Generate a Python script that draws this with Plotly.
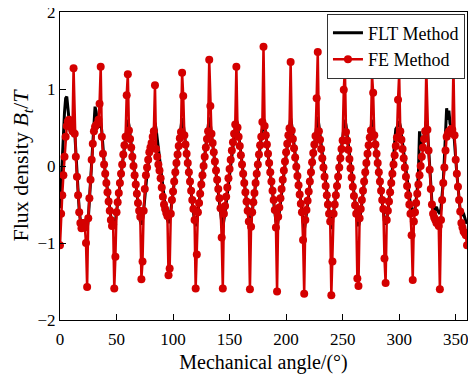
import plotly.graph_objects as go

# Mechanical angle samples (degrees)
angle = list(range(0, 361))

# FE Method flux density (T), one value per degree
fe_method = [
    # 0-23
    -1.03, -0.62, -0.38, -0.12, 0.12, 0.38, 0.52, 0.58, 0.60, 0.56, 0.50, 0.45,
    1.27, 0.42, 0.12, -0.14, -0.38, -0.60, -0.74, -0.81, -0.78, -0.74, -0.80, -1.00,
    # 24-47
    -1.57, -0.68, -0.42, -0.18, 0.08, 0.29, 0.45, 0.51, 0.53, 0.55, 0.60, 0.81,
    1.29, 0.38, 0.16, 0.02, -0.10, -0.22, -0.34, -0.46, -0.58, -0.70, -0.78, -0.76,
    # 48-71
    -1.59, -1.18, -0.60, -0.47, -0.35, -0.22, -0.10, 0.02, 0.15, 0.27, 0.38, 0.92,
    1.19, 0.46, 0.35, 0.24, 0.12, 0.00, -0.12, -0.24, -0.36, -0.48, -0.58, -0.66,
    # 72-95
    -1.47, -1.24, -0.58, -0.30, -0.12, -0.02, 0.08, 0.18, 0.24, 0.30, 0.38, 0.45,
    1.05, 0.22, 0.12, 0.02, -0.06, -0.16, -0.28, -0.40, -0.50, -0.56, -0.61, -0.65,
    # 96-119
    -1.42, -1.33, -0.62, -0.44, -0.33, -0.20, -0.08, 0.04, 0.15, 0.26, 0.36, 0.44,
    1.21, 0.91, 0.40, 0.28, 0.16, 0.04, -0.08, -0.20, -0.32, -0.44, -0.56, -0.70,
    # 120-143
    -1.59, -1.15, -0.60, -0.48, -0.36, -0.24, -0.12, 0.00, 0.12, 0.24, 0.35, 0.45,
    1.38, 0.78, 0.42, 0.30, 0.18, 0.06, -0.06, -0.18, -0.30, -0.42, -0.55, -0.93,
    # 144-167
    -1.59, -0.62, -0.52, -0.40, -0.28, -0.16, -0.04, 0.08, 0.20, 0.31, 0.42, 0.54,
    1.29, 0.50, 0.38, 0.26, 0.14, 0.02, -0.10, -0.22, -0.34, -0.46, -0.58, -0.72,
    # 168-191
    -1.60, -0.79, -0.60, -0.47, -0.35, -0.22, -0.10, 0.02, 0.15, 0.27, 0.38, 0.57,
    1.55, 0.52, 0.40, 0.28, 0.16, 0.04, -0.08, -0.20, -0.32, -0.44, -0.57, -0.80,
    # 192-215
    -1.63, -0.66, -0.54, -0.42, -0.30, -0.18, -0.06, 0.06, 0.18, 0.29, 0.40, 0.49,
    1.35, 0.46, 0.35, 0.23, 0.11, -0.01, -0.13, -0.25, -0.37, -0.49, -0.60, -0.96,
    # 216-239
    -1.66, -0.70, -0.57, -0.45, -0.33, -0.20, -0.08, 0.05, 0.17, 0.28, 0.39, 0.88,
    1.48, 0.45, 0.34, 0.22, 0.10, -0.02, -0.14, -0.26, -0.38, -0.50, -0.62, -0.72,
    # 240-263
    -1.68, -1.24, -0.62, -0.50, -0.38, -0.26, -0.14, -0.02, 0.10, 0.22, 0.33, 0.99,
    1.26, 0.44, 0.33, 0.21, 0.09, -0.03, -0.15, -0.27, -0.39, -0.51, -0.62, -1.46,
    # 264-287
    -1.56, -0.68, -0.56, -0.44, -0.32, -0.20, -0.08, 0.04, 0.16, 0.27, 0.37, 0.46,
    1.18, 0.95, 0.40, 0.28, 0.16, 0.04, -0.08, -0.20, -0.32, -0.44, -0.56, -1.20,
    # 288-311
    -1.52, -0.70, -0.58, -0.46, -0.34, -0.22, -0.10, 0.02, 0.14, 0.26, 0.37, 0.86,
    1.19, 0.45, 0.34, 0.22, 0.10, -0.02, -0.14, -0.26, -0.38, -0.50, -0.62, -0.90,
    # 312-335
    -1.48, -0.72, -0.60, -0.48, -0.36, -0.24, -0.12, 0.00, 0.12, 0.24, 0.35, 0.45,
    1.25, 0.47, 0.20, -0.05, -0.30, -0.50, -0.62, -0.67, -0.70, -0.74, -0.72, -0.78,
    # 336-360
    -1.60, -0.70, -0.44, -0.22, -0.02, 0.20, 0.38, 0.42, 0.45, 0.43, 0.48, 0.47,
    1.28, 0.40, 0.08, -0.10, -0.27, -0.44, -0.59, -0.74, -0.80, -0.85, -0.87, -0.90,
    -1.03,
]

# FLT Method flux density (T), one value per degree
flt_method = [
    # 0-23
    -0.55, -0.20, 0.15, 0.45, 0.70, 0.88, 0.90, 0.75, 0.55, 0.45, 0.48, 0.52,
    0.55, 0.45, 0.15, -0.12, -0.36, -0.58, -0.70, -0.75, -0.70, -0.74, -0.78, -0.80,
    # 24-47
    -0.82, -0.70, -0.45, -0.20, 0.10, 0.35, 0.60, 0.77, 0.70, 0.55, 0.50, 0.55,
    0.58, 0.45, 0.22, 0.06, -0.08, -0.21, -0.33, -0.46, -0.60, -0.72, -0.78, -0.76,
    # 48-71
    -0.78, -0.72, -0.60, -0.48, -0.35, -0.22, -0.10, 0.02, 0.14, 0.26, 0.40, 0.53,
    0.60, 0.53, 0.40, 0.27, 0.15, 0.03, -0.09, -0.21, -0.33, -0.46, -0.60, -0.72,
    # 72-95
    -0.76, -0.70, -0.58, -0.40, -0.22, -0.10, 0.02, 0.12, 0.22, 0.32, 0.42, 0.52,
    0.56, 0.48, 0.35, 0.22, 0.10, -0.02, -0.16, -0.30, -0.44, -0.56, -0.64, -0.70,
    # 96-119
    -0.74, -0.70, -0.60, -0.48, -0.35, -0.22, -0.10, 0.02, 0.14, 0.26, 0.40, 0.53,
    0.62, 0.55, 0.42, 0.28, 0.16, 0.04, -0.08, -0.20, -0.33, -0.46, -0.60, -0.72,
    # 120-143
    -0.78, -0.72, -0.60, -0.48, -0.35, -0.22, -0.10, 0.02, 0.14, 0.26, 0.40, 0.53,
    0.63, 0.54, 0.41, 0.28, 0.16, 0.04, -0.08, -0.20, -0.33, -0.46, -0.60, -0.72,
    # 144-167
    -0.80, -0.72, -0.60, -0.48, -0.35, -0.22, -0.10, 0.02, 0.14, 0.26, 0.40, 0.53,
    0.61, 0.53, 0.40, 0.27, 0.15, 0.03, -0.09, -0.21, -0.33, -0.46, -0.60, -0.72,
    # 168-191
    -0.82, -0.72, -0.60, -0.48, -0.35, -0.22, -0.10, 0.02, 0.14, 0.26, 0.40, 0.53,
    0.60, 0.53, 0.40, 0.27, 0.15, 0.03, -0.09, -0.21, -0.33, -0.46, -0.60, -0.72,
    # 192-215
    -0.80, -0.72, -0.60, -0.48, -0.35, -0.22, -0.10, 0.02, 0.14, 0.26, 0.40, 0.53,
    0.62, 0.53, 0.40, 0.27, 0.15, 0.03, -0.09, -0.21, -0.33, -0.46, -0.60, -0.74,
    # 216-239
    -0.84, -0.74, -0.60, -0.48, -0.35, -0.22, -0.10, 0.02, 0.14, 0.26, 0.40, 0.53,
    0.64, 0.53, 0.40, 0.27, 0.15, 0.03, -0.09, -0.21, -0.33, -0.46, -0.60, -0.72,
    # 240-263
    -0.82, -0.72, -0.60, -0.48, -0.35, -0.22, -0.10, 0.02, 0.14, 0.26, 0.40, 0.53,
    0.60, 0.53, 0.40, 0.27, 0.15, 0.03, -0.09, -0.21, -0.33, -0.46, -0.60, -0.72,
    # 264-287
    -0.78, -0.72, -0.60, -0.48, -0.35, -0.22, -0.10, 0.02, 0.14, 0.26, 0.40, 0.53,
    0.60, 0.53, 0.40, 0.27, 0.15, 0.03, -0.09, -0.21, -0.33, -0.46, -0.60, -0.72,
    # 288-311
    -0.76, -0.70, -0.58, -0.46, -0.34, -0.20, -0.06, 0.10, 0.30, 0.48, 0.50, 0.53,
    0.58, 0.52, 0.40, 0.27, 0.15, 0.03, -0.09, -0.21, -0.33, -0.46, -0.50, -0.55,
    # 312-335
    -0.62, -0.64, -0.56, -0.44, -0.30, -0.12, 0.45, 0.35, 0.25, 0.30, 0.40, 0.50,
    0.58, 0.48, 0.22, -0.03, -0.28, -0.48, -0.60, -0.60, -0.55, -0.53, -0.58, -0.60,
    # 336-360
    -0.62, -0.55, -0.40, -0.20, 0.10, 0.50, 0.75, 0.60, 0.72, 0.55, 0.50, 0.48,
    0.50, 0.35, 0.10, -0.10, -0.28, -0.45, -0.58, -0.65, -0.60, -0.62, -0.68, -0.72,
    -0.75,
]

# Axis ticks
x_ticks = [0, 50, 100, 150, 200, 250, 300, 350]
y_ticks = [-2, -1, 0, 1, 2]

RED = "#d40000"
FONT = "Liberation Serif, Times New Roman, serif"

fig = go.Figure()
fig.add_trace(go.Scatter(
    x=angle, y=flt_method, mode="lines", name="FLT Method",
    line=dict(color="black", width=3),
))
fig.add_trace(go.Scatter(
    x=angle, y=fe_method, mode="lines+markers", name="FE Method",
    line=dict(color=RED, width=2.5),
    marker=dict(color=RED, size=8),
))

# The page body adds an 8px offset, so the figure is sized to fit inside it
fig.update_layout(
    width=468, height=366,
    margin=dict(l=52, r=9, t=4, b=54, autoexpand=False),
    paper_bgcolor="white", plot_bgcolor="white",
    font=dict(family=FONT, size=17, color="black"),
    showlegend=True,
    legend=dict(
        x=0.995, y=0.995, xanchor="right", yanchor="top",
        bgcolor="white", bordercolor="#333333", borderwidth=1,
        font=dict(family=FONT, size=18, color="black"),
        tracegroupgap=0, itemwidth=30,
    ),
)
fig.update_xaxes(
    range=[0, 360], tickvals=x_ticks,
    ticks="inside", ticklen=6, tickcolor="black",
    showline=True, linecolor="black", linewidth=1, mirror=True,
    showgrid=False, zeroline=False, automargin=False,
    ticklabeloverflow="allow", ticklabelstandoff=4,
    title=dict(text="Mechanical angle/(°)", font=dict(family=FONT, size=20)),
    tickfont=dict(family=FONT, size=17),
)
fig.update_yaxes(
    range=[-2, 2], tickvals=y_ticks,
    ticks="inside", ticklen=6, tickcolor="black",
    showline=True, linecolor="black", linewidth=1, mirror=True,
    showgrid=False, zeroline=False, automargin=False,
    ticklabeloverflow="allow",
    title=dict(text="Flux density <i>B</i><sub><i>t</i></sub>/<i>T</i>",
               font=dict(family=FONT, size=22)),
    tickfont=dict(family=FONT, size=17),
)

fig.write_html("out.html")
